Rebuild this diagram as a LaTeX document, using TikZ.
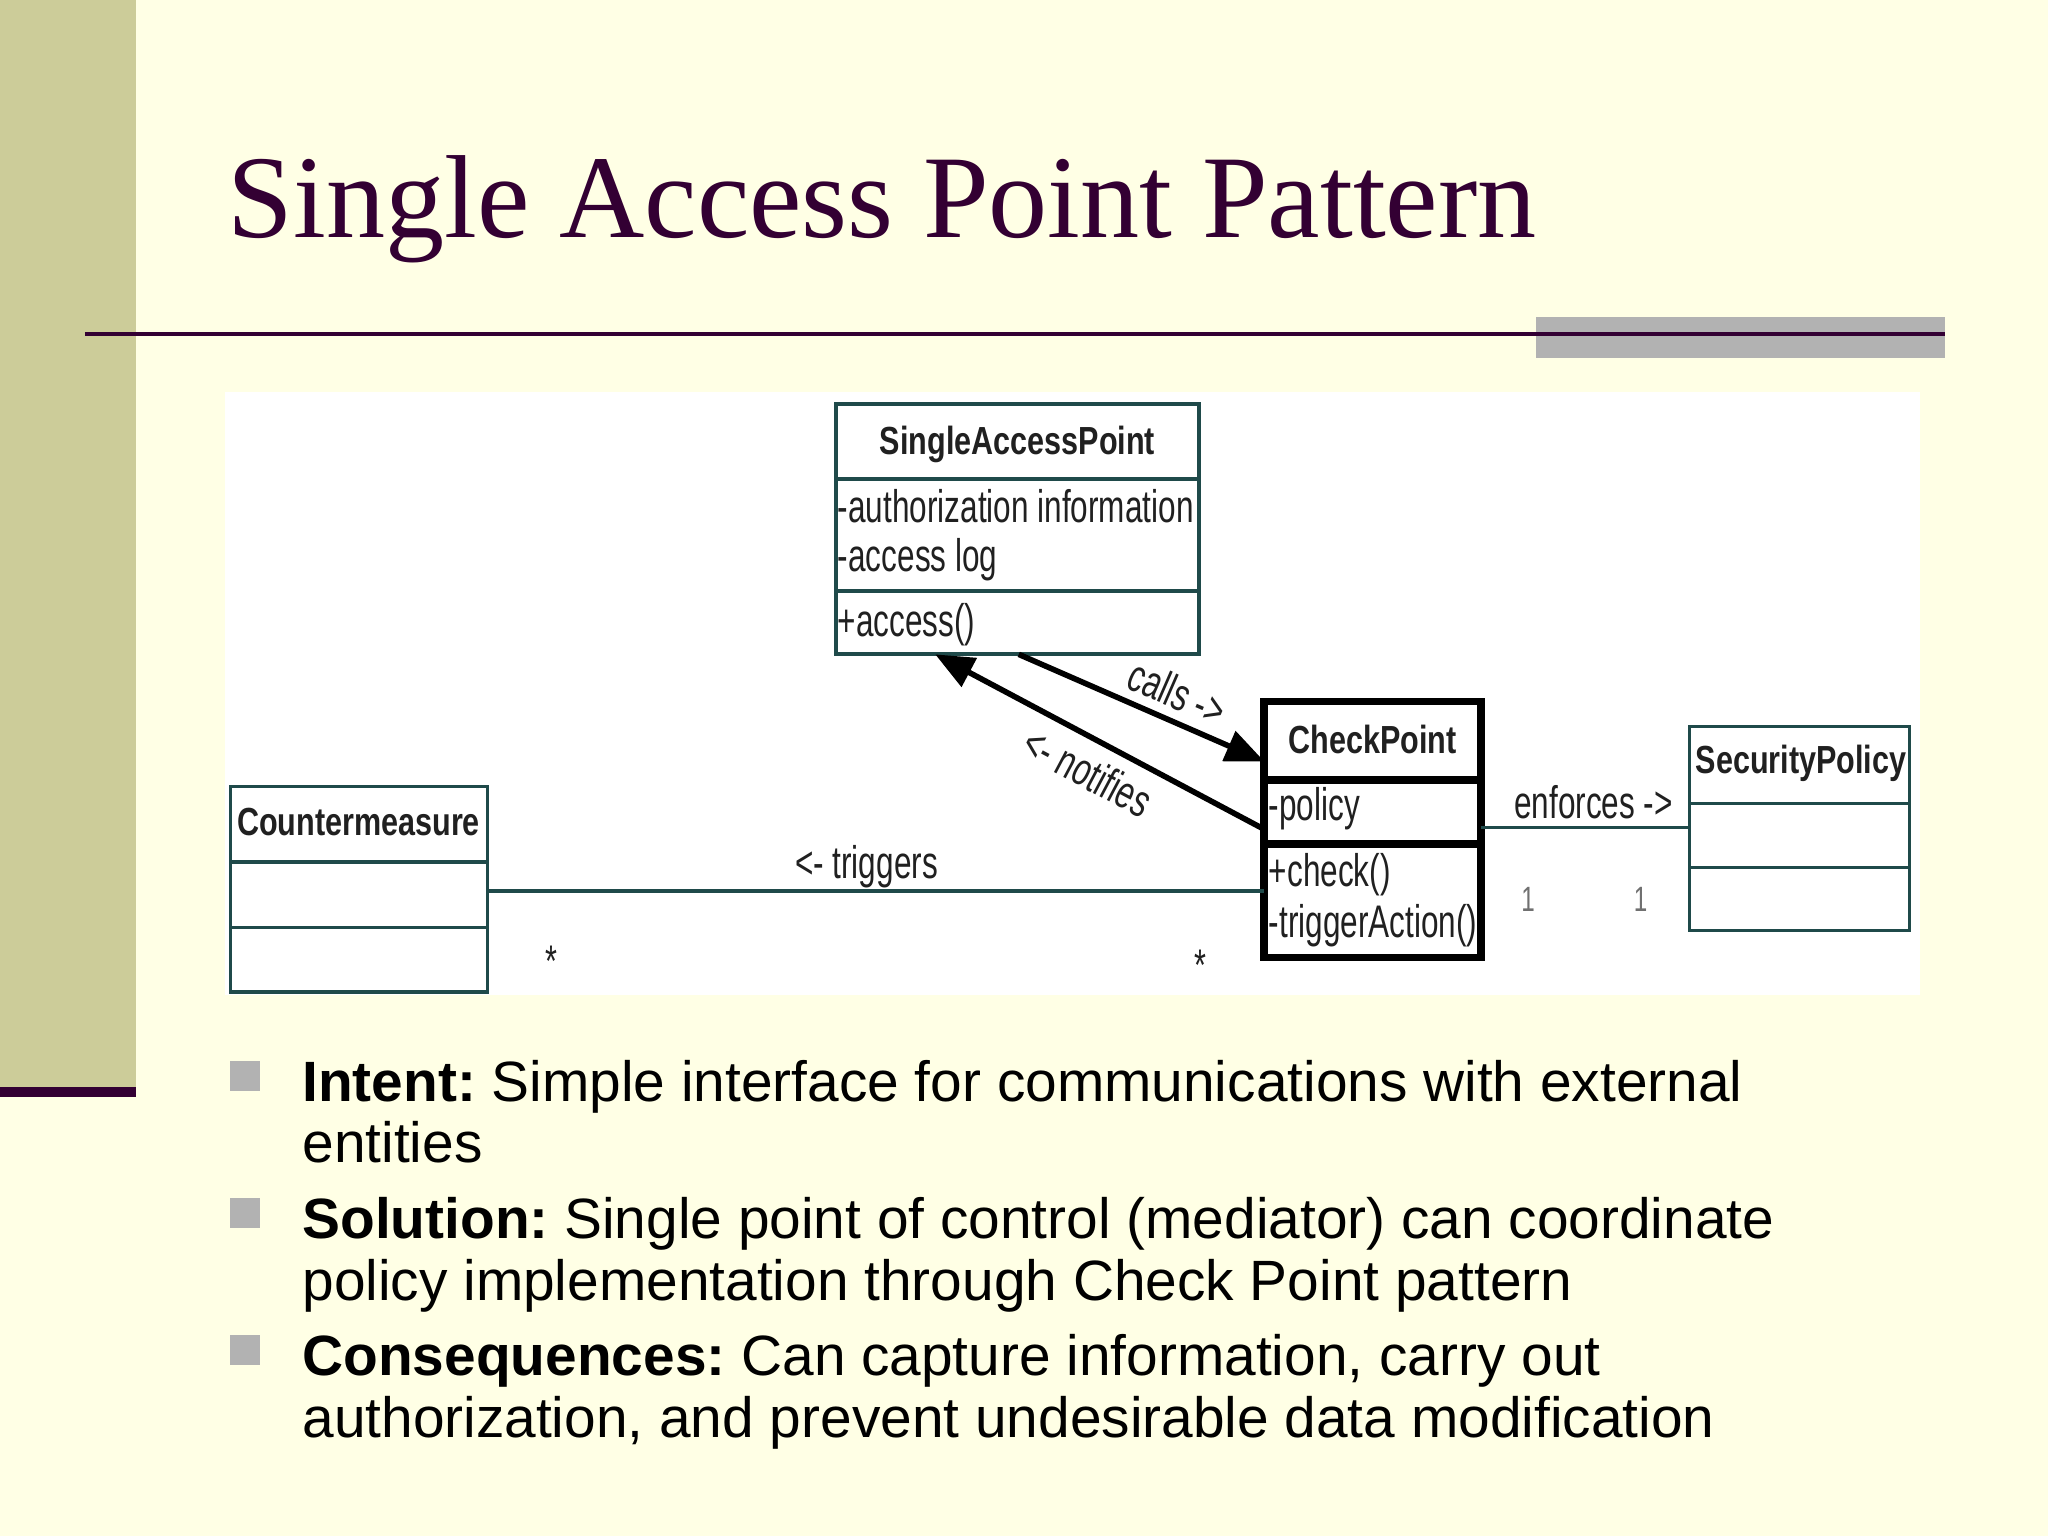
\documentclass[tikz,border=0pt]{standalone}
\usepackage{fontspec}
\usetikzlibrary{arrows.meta,calc,fit}
\newfontfamily\titlefont{Liberation Serif}
\newfontfamily\bodyfont{Liberation Sans}
\newfontfamily\umlfont[FakeStretch=0.69]{Liberation Sans}
\newfontfamily\umlbold[FakeStretch=0.78]{Liberation Sans Bold}
\definecolor{bgc}{HTML}{FFFFE5}
\definecolor{barc}{HTML}{CCCC99}
\definecolor{plum}{HTML}{330033}
\definecolor{greyblk}{HTML}{B2B2B2}
\definecolor{umlline}{HTML}{1F4A4A}
\definecolor{umltext}{HTML}{202020}
\definecolor{multc}{HTML}{707070}
\tikzset{umltip/.tip={Triangle[length=11pt, width=9pt]}}
\frenchspacing
\begin{document}
\begin{tikzpicture}[x=0.013061cm, y=-0.013061cm,
  titlef/.style={font=\titlefont\fontsize{33.6pt}{40pt}\selectfont, text=plum, inner sep=0},
  bodytext/.style={font=\bodyfont\fontsize{16.17pt}{17pt}\selectfont\frenchspacing, text=black, inner sep=0, anchor=base west},
  bulletsq/.style={fill=greyblk, minimum size=8.55pt, inner sep=0, outer sep=0},
  classbox/.style={draw=umlline, line width=1.1pt, inner sep=0, outer sep=0},
  thinbox/.style={draw=umlline, line width=0.9pt, inner sep=0, outer sep=0},
  cpbox/.style={draw=black, line width=2.2pt, inner sep=0, outer sep=0},
  clsname/.style={font=\umlbold\fontsize{11.15pt}{13pt}\selectfont, text=umltext, inner sep=0, anchor=base},
  member/.style={font=\umlfont\fontsize{13pt}{15pt}\selectfont, text=umltext, inner sep=0, anchor=base west},
  lbl/.style={font=\umlfont\fontsize{13pt}{15pt}\selectfont, text=umltext, inner sep=0},
  multstar/.style={font=\umlfont\fontsize{12.6pt}{15pt}\selectfont, text=umltext, inner sep=0, anchor=base},
  multone/.style={font=\umlfont\fontsize{10pt}{12pt}\selectfont, text=multc, inner sep=0, anchor=base},
  assoc/.style={draw=umlline, line width=1pt},
  msgarrow/.style={draw=black, line width=1.6pt}
]
\useasboundingbox (0,0) rectangle (1568,1176);
% slide background
\fill[bgc] (0,0) rectangle (1568,1176);
\fill[barc] (0,0) rectangle (104,832);
\fill[plum] (0,832) rectangle (104,840);
\fill[greyblk] (1176,243) rectangle (1489,274);
\draw[plum, line width=1.1pt] (65,256) -- (1489,256);
\node[titlef, anchor=base west] (title) at (174,182) {Single Access Point Pattern};

% diagram area
\fill[white] (172,300) rectangle (1470,762);

% SingleAccessPoint
\node[classbox, fit={(640,309) (918,501)}] (sap) {};
\draw[umlline, line width=1.1pt] ($(sap.north west)+(0,58)$) -- ($(sap.north east)+(0,58)$);
\draw[umlline, line width=1.1pt] ($(sap.north west)+(0,143.5)$) -- ($(sap.north east)+(0,143.5)$);
\node[clsname] (sapname) at (779,348) {SingleAccessPoint};
\node[member] (sapa1) at (641,400) {-authorization information};
\node[member] (sapa2) at (641,437.5) {-access log};
\node[member] (sapm1) at (641,487) {+access()};

% CheckPoint
\node[cpbox, fit={(968,537) (1134,733)}] (cp) {};
\draw[black, line width=2.2pt] ($(cp.north west)+(0,60)$) -- ($(cp.north east)+(0,60)$);
\draw[black, line width=2.2pt] ($(cp.north west)+(0,109)$) -- ($(cp.north east)+(0,109)$);
\node[clsname] (cpname) at (1051,577) {CheckPoint};
\node[member] (cpa1) at (971,628) {-policy};
\node[member] (cpm1) at (971,679) {+check()};
\node[member] (cpm2) at (971,718) {-triggerAction()};

% Countermeasure
\node[thinbox, fit={(176.5,602) (373,759.5)}] (cm) {};
\draw[umlline, line width=0.9pt] ($(cm.north west)+(0,58)$) -- ($(cm.north east)+(0,58)$);
\draw[umlline, line width=0.9pt] ($(cm.north west)+(0,108)$) -- ($(cm.north east)+(0,108)$);
\node[clsname] (cmname) at (274.5,639.5) {Countermeasure};

% SecurityPolicy
\node[thinbox, fit={(1293.5,556.5) (1462,712.5)}] (sp) {};
\draw[umlline, line width=0.9pt] ($(sp.north west)+(0,58.5)$) -- ($(sp.north east)+(0,58.5)$);
\draw[umlline, line width=0.9pt] ($(sp.north west)+(0,108)$) -- ($(sp.north east)+(0,108)$);
\node[clsname] (spname) at (1379,592) {SecurityPolicy};

% connectors
\draw[msgarrow, -{umltip}] ($(sap.south west)+(140,0)$) -- node[lbl, sloped, pos=0.6, above=2.5pt] (callslbl) {calls ->} ($(cp.north west)+(0,46)$);
\draw[msgarrow, {umltip}-] ($(sap.south west)+(76,0)$) -- node[lbl, sloped, pos=0.51, below=3.5pt] (notlbl) {<- notifies} ($(cp.north west)+(0,98)$);
\draw[assoc] ($(cm.north east)+(0,80)$) -- node[lbl, pos=0.488, anchor=base, yshift=3.5pt] (triglbl) {<- triggers} ($(cp.north west)+(0,145)$);
\draw[assoc] ($(cp.north east)+(0,96.5)$) -- node[lbl, pos=0.54, anchor=base, yshift=2.6pt] (enflbl) {enforces ->} ($(sp.north west)+(0,77)$);

% multiplicities
\node[multstar] (mul1) at (422,748) {*};
\node[multstar] (mul2) at (919,751) {*};
\node[multone] (mul3) at (1170,698) {1};
\node[multone] (mul4) at (1256,698) {1};

% bullet list
\node[bulletsq] (b1) at (187.5,823.5) {};
\node[bulletsq] (b2) at (187.5,928.5) {};
\node[bulletsq] (b3) at (187.5,1033.5) {};
\node[bodytext] (t1) at (231,843.5) {\textbf{Intent:} Simple interface for communications with external};
\node[bodytext] (t2) at (231,890) {entities};
\node[bodytext] (t3) at (231,948.5) {\textbf{Solution:} Single point of control (mediator) can coordinate};
\node[bodytext] (t4) at (231,995.5) {policy implementation through Check Point pattern};
\node[bodytext] (t5) at (231,1053.5) {\textbf{Consequences:} Can capture information, carry out};
\node[bodytext] (t6) at (231,1100.5) {authorization, and prevent undesirable data modification};
\end{tikzpicture}
\end{document}
